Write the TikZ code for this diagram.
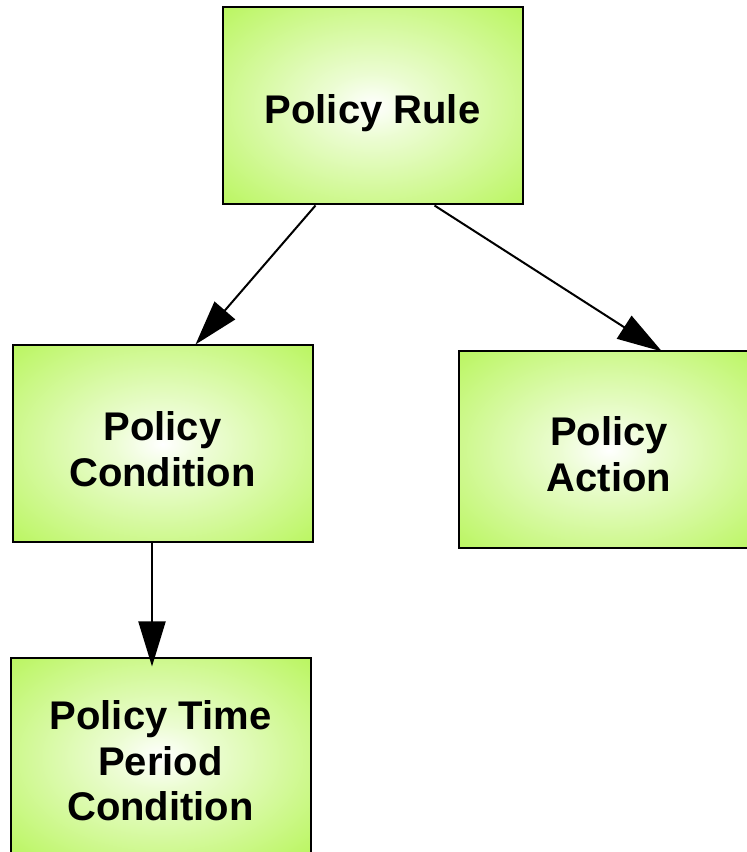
\documentclass[tikz,border=0pt]{standalone}
\usepackage{fontspec}
\setmainfont{Liberation Sans}
\usetikzlibrary{arrows.meta}
\definecolor{boxgreen}{RGB}{160,242,36}
\pgfdeclareradialshading{boxglow}{\pgfpoint{0bp}{0bp}}{color(0bp)=(white); color(8bp)=(boxgreen!20); color(50bp)=(boxgreen); color(100bp)=(boxgreen)}
\begin{document}
\begin{tikzpicture}[x=1pt,y=1pt,
    policybox/.style={draw,line width=2pt,shading=boxglow,
      minimum width=300pt,minimum height=197pt,inner sep=0pt},
    boxtext/.style={align=center,font=\fontsize{40}{45.5}\selectfont\bfseries},
    link/.style={line width=2pt,-{Triangle[length=45pt,width=27pt]}}]
        \useasboundingbox (0,0) rectangle (747,852);
        \node[policybox] (rule) at (372.5,746) {};
        \node[policybox] (cond) at (162.5,408) {};
        \node[policybox] (action) at (609,402) {};
        \node[policybox] (period) at (160.5,95) {};

        % box texts
        \node[boxtext] (ruletext) at ([yshift=-7pt]rule) {Policy Rule};
        \node[boxtext] (condtext) at ([yshift=-5pt]cond) {Policy\\Condition};
        \node[boxtext] (actiontext) at ([yshift=-4pt]action) {Policy\\Action};
        \node[boxtext] (periodtext) at ([yshift=-4pt]period) {Policy Time\\Period\\Condition};

        \draw[link] ([xshift=-57pt]rule.south) -- ([xshift=33pt]cond.north);
        \draw[link] ([xshift=62pt]rule.south) -- ([xshift=53pt,yshift=-1pt]action.north);
        \draw[link] ([xshift=-10.5pt]cond.south) -- ([xshift=-8.5pt,yshift=-9pt]period.north);
      \end{tikzpicture}
\end{document}
